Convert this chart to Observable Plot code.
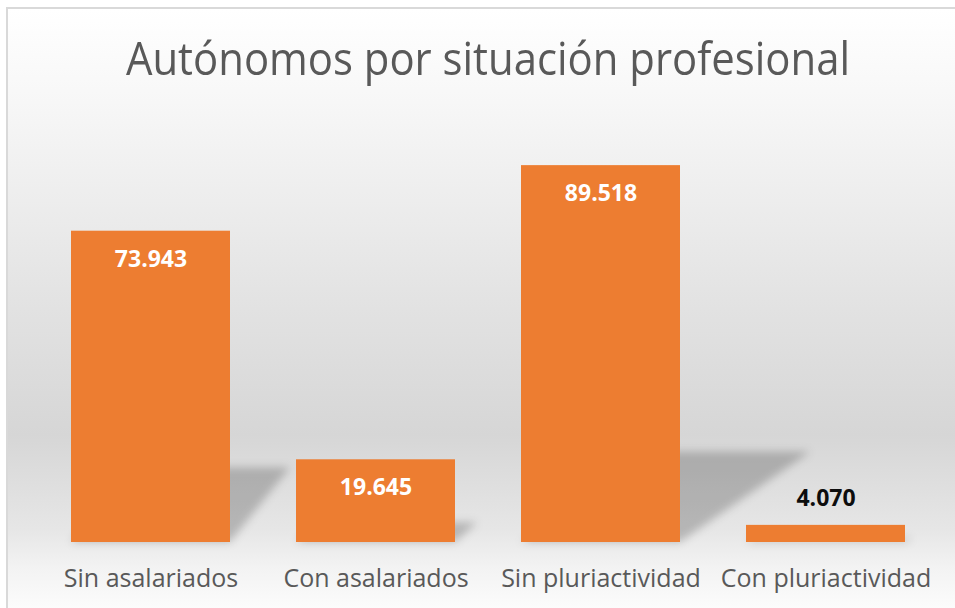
<!DOCTYPE html>
<html>
<head>
<meta charset="utf-8">
<script src="https://cdn.jsdelivr.net/npm/d3@7"></script>
<script src="https://cdn.jsdelivr.net/npm/@observablehq/plot@0.6"></script>
<style>
  html, body { margin: 0; padding: 0; background: #ffffff; }
  #wrap { position: relative; width: 955px; height: 608px; overflow: hidden; background: #ffffff; }
  #box {
    position: absolute; left: 6px; top: 7px; width: 960px; height: 610px;
    border-top: 2px solid #d9d9d9; border-left: 2px solid #d9d9d9;
    background: linear-gradient(to bottom, #ffffff 0px, #f7f7f7 93px, #e3e3e3 290px, #d6d6d6 426px, #e6e6e6 520px, #f3f3f3 560px, #fcfcfc 601px);
  }
  #title {
    position: absolute; left: 0; width: 976px; top: 34px; text-align: center;
    font-family: "Open Sans", sans-serif; font-size: 46px; color: #595959; line-height: 1;
    transform: scaleX(0.91); transform-origin: 488px 0;
  }
  #chart { position: absolute; left: 0; top: 0; }
</style>
</head>
<body>
<div id="wrap">
  <div id="box"></div>
  <div id="title">Autónomos por situación profesional</div>
  <div id="chart"></div>
</div>
<script>
const categories = ["Sin asalariados", "Con asalariados", "Sin pluriactividad", "Con pluriactividad"];
const values = [73943, 19645, 89518, 4070];
const valueLabels = ["73.943", "19.645", "89.518", "4.070"];
const insideLabel = [true, true, true, false];

const data = categories.map((c, i) => ({cat: c, value: values[i], label: valueLabels[i], inside: insideLabel[i]}));

const plot = Plot.plot({
  width: 955,
  height: 608,
  marginTop: 121,
  marginBottom: 66,
  marginLeft: 37,
  marginRight: 16,
  style: {background: "transparent", overflow: "visible"},
  x: {domain: categories, paddingInner: 0.293, paddingOuter: 0.1465, align: 0.5, label: null},
  y: {domain: [0, 100000], axis: null},
  marks: [
    Plot.barY(data, {x: "cat", y: "value", fill: "#ED7D31"}),
    Plot.text(data.filter(d => d.inside), {
      x: "cat", y: "value", text: "label", dy: 28,
      fill: "#ffffff", fontWeight: "bold", fontSize: 23,
      fontFamily: "Open Sans, sans-serif"
    }),
    Plot.text(data.filter(d => !d.inside), {
      x: "cat", y: "value", text: "label", dy: -27,
      fill: "#0d0d0d", fontWeight: "bold", fontSize: 23,
      fontFamily: "Open Sans, sans-serif"
    }),
    Plot.axisX({
      tickSize: 0, tickPadding: 27, fontSize: 25, label: null,
      fontFamily: "Open Sans, sans-serif", color: "#595959"
    })
  ]
});

document.getElementById("chart").appendChild(plot);

// Perspective shadows behind bars, computed from the plot's own scales
const sx = plot.scale("x");
const sy = plot.scale("y");
const svg = d3.select(plot);
const defs = svg.insert("defs", ":first-child");
defs.append("filter").attr("id", "shblur").attr("x", "-50%").attr("y", "-50%").attr("width", "200%").attr("height", "200%")
  .append("feGaussianBlur").attr("stdDeviation", 4.5);
const barGroup = plot.querySelector('g[aria-label="bar"]');
const shadowG = d3.select(svg.node().insertBefore(document.createElementNS("http://www.w3.org/2000/svg", "g"), barGroup))
  .attr("filter", "url(#shblur)").attr("fill", "#000").attr("fill-opacity", 0.21);
data.forEach(d => {
  const x0 = sx.apply(d.cat);
  const w = sx.bandwidth;
  const yb = sy.apply(0);
  const h = yb - sy.apply(d.value);
  const sh = 0.24 * h;
  const xc = x0 + w / 2;
  const shift = (0.59 + 0.00142 * xc) * sh;
  shadowG.append("polygon").attr("points", [
    [x0, yb], [x0 + w, yb], [x0 + w + shift, yb - sh], [x0 + shift, yb - sh]
  ].map(p => p.join(",")).join(" "));
});
</script>
</body>
</html>
